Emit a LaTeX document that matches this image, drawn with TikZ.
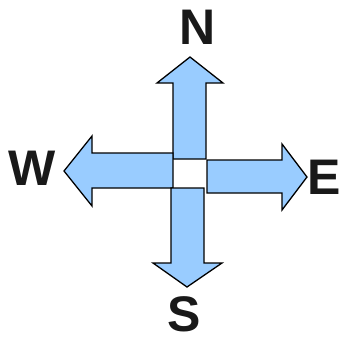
\documentclass[tikz,border=0pt]{standalone}
\usepackage{fontspec}
\setmainfont{Liberation Sans}
\definecolor{arrowblue}{HTML}{99CCFF}
\begin{document}
\begin{tikzpicture}[x=1pt,y=-1pt,
  bigarrow/.style={draw=black,fill=arrowblue,line width=1.3pt,line join=miter},
  compass/.style={font=\fontsize{50}{50}\selectfont\bfseries,inner sep=0pt,text depth=0pt,text=black!90}]
\useasboundingbox (0,0) rectangle (340,341);
% North
\draw[bigarrow] (173,159) -- (173,83) -- (157,83) -- (190,57) -- (223,83) -- (206,83) -- (206,159) -- cycle;
% West
\draw[bigarrow] (173,153) -- (92,153) -- (92,136) -- (64,171) -- (92,206) -- (92,188) -- (173,188) -- cycle;
% East
\draw[bigarrow] (207,160) -- (282,160) -- (282,144) -- (307,177) -- (282,210) -- (282,193) -- (207,193) -- cycle;
% South
\draw[bigarrow] (171,188) -- (171,263) -- (153,263) -- (187,287) -- (222,263) -- (204,263) -- (204,188) -- cycle;
\node[compass] (n) at (198,27) {N};
\node[compass] (w) at (32,168) {W};
\node[compass] (e) at (324.5,177) {E};
\node[compass] (s) at (184,314.5) {S};
\end{tikzpicture}
\end{document}
